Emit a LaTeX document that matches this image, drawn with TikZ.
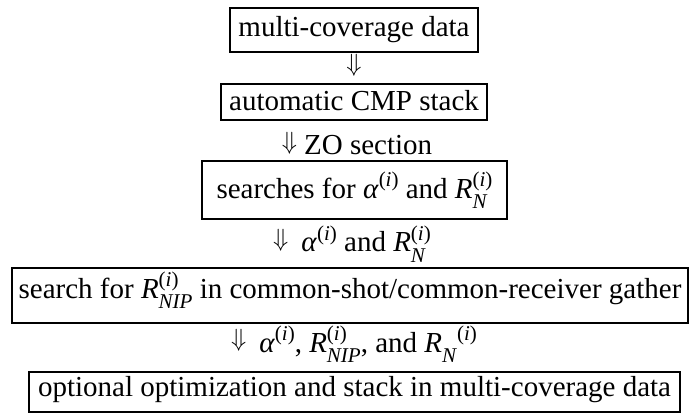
\documentclass[tikz,border=0pt]{standalone}
\usepackage{fontspec}
\setmainfont{Liberation Serif}
\newsavebox\sbA
\newsavebox\sbB
\newlength\ssw
\newcommand{\scrsz}{\fontsize{21}{21}\selectfont}
\newcommand{\supr}[1]{\raisebox{12pt}{\scrsz #1}}
\newcommand{\subr}[1]{\raisebox{-10pt}{\scrsz #1}}
\newcommand{\subsup}[2]{%
  \sbox\sbA{\scrsz #1}\sbox\sbB{\scrsz #2}%
  \setlength\ssw{\wd\sbA}\ifdim\wd\sbB>\ssw \setlength\ssw{\wd\sbB}\fi
  \makebox[\ssw][l]{\rlap{\raisebox{-10pt}{\usebox\sbA}}\raisebox{12pt}{\usebox\sbB}}}
\newcommand{\ii}{(\textit{i})}
\newcommand{\dar}{\raisebox{0.194em}{$\Downarrow$}}
\begin{document}
\begin{tikzpicture}[x=1pt,y=-1pt,
  every node/.style={font=\fontsize{29}{34}\selectfont},
  box/.style={draw, line width=1.7pt, inner sep=0pt, anchor=north},
  lab/.style={inner sep=0pt, anchor=base}]
\useasboundingbox (0,0) rectangle (691,414);
\node[box, minimum width=248pt, text height=29pt, text depth=15pt] (b1) at (354,7) {multi-coverage data};
\node[lab] (l1) at (354,77) {\dar};
\node[box, minimum width=266pt, text height=27pt, text depth=9pt] (b2) at (354,83) {automatic CMP stack};
\node[lab] (l2) at (357,155) {\dar\ ZO section};
\node[box, minimum width=305pt, text height=38pt, text depth=20pt] (b3) at (354.5,160) {searches for \textit{α}\supr{\ii} and \textit{R}\subsup{\textit{N}}{\ii}};
\node[lab] (l3) at (352,252) {\dar\hspace{13pt}\textit{α}\supr{\ii} and \textit{R}\subsup{\textit{N}}{\ii}};
\node[box, minimum width=676pt, text height=31pt, text depth=24pt] (b4) at (350,267) {search for \textit{R}\subsup{\textit{NIP}}{\ii} in common-shot/common-receiver gather};
\node[lab] (l4) at (354,352) {\dar\hspace{13pt}\textit{α}\supr{\ii}, \textit{R}\subsup{\textit{NIP}}{\ii}, and \textit{R}\subr{\textit{N}}\supr{\ii}};
\node[box, minimum width=651pt, text height=25pt, text depth=15pt] (b5) at (354.5,371) {optional optimization and stack in multi-coverage data};
\end{tikzpicture}
\end{document}
